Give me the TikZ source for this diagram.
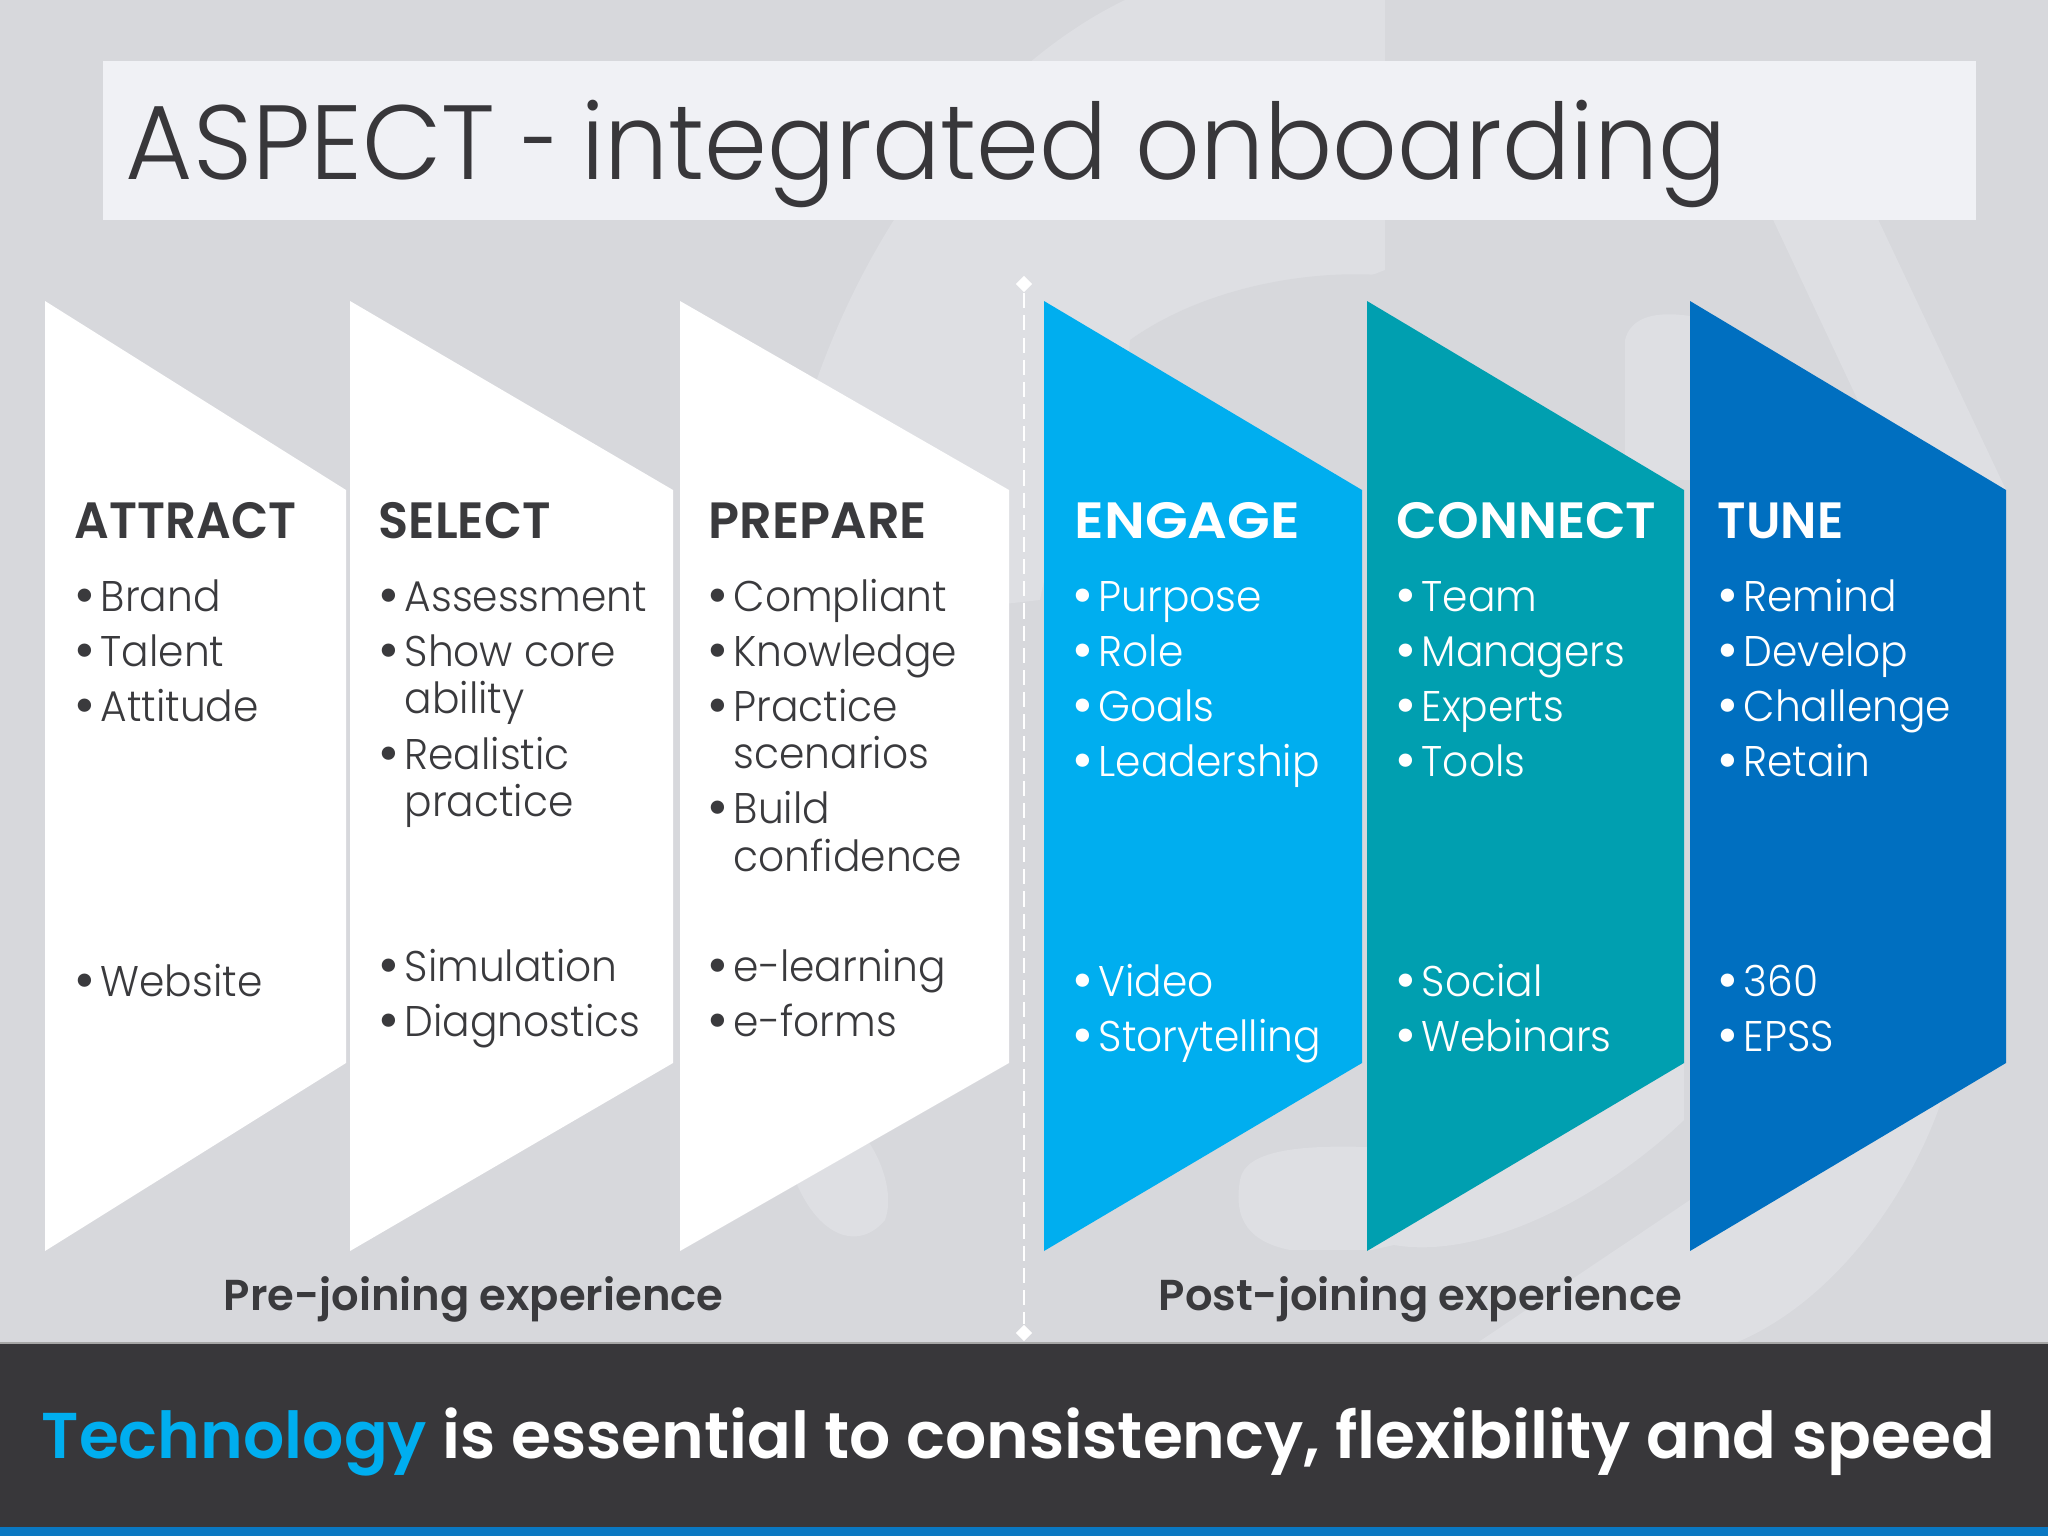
\documentclass[tikz,border=0pt]{standalone}
\usepackage{fontspec}
\setmainfont{Poppins}
\newfontfamily\titlef[FakeStretch=0.95]{Poppins Light}
\newfontfamily\lightf[FakeStretch=0.95]{Poppins Light}
\newfontfamily\boldf{Poppins SemiBold}
\definecolor{bgc}{HTML}{D7D8DC}
\definecolor{wm}{HTML}{DEDFE3}
\definecolor{ttl}{HTML}{F0F1F5}
\definecolor{ink}{HTML}{3A3A3D}
\definecolor{dark}{HTML}{38373A}
\definecolor{cyanb}{HTML}{00AEEF}
\definecolor{teal}{HTML}{009FB0}
\definecolor{royal}{HTML}{006FC0}
\definecolor{strip}{HTML}{0A78C2}
\usetikzlibrary{shapes.geometric}
\tikzset{
  x=0.01cm,y=-0.01cm,
  head/.style={anchor=base west,inner sep=0pt,font=\boldf\fontsize{14.5}{16}\selectfont},
  body/.style={anchor=base west,inner sep=0pt,font=\lightf\fontsize{12.2}{14}\selectfont},
  foot/.style={anchor=base west,inner sep=0pt,text=ink,font=\boldf\fontsize{12.3}{14}\selectfont},
  dmark/.style={diamond,fill=white,inner sep=0pt,minimum size=0.17cm}
}
\newcommand{\bull}{\llap{{\boldf\fontsize{13.5}{14}\selectfont\raisebox{-0.02em}{•}}\hspace{1.15pt}}}
\newcommand{\chev}[3]{\fill[#3] (#1,301)--(#2,490)--(#2,1063)--(#1,1251)--cycle;}
\newcommand{\itm}[5]{\node[body,text=#5] (#1) at (#2,#3) {\bull #4};}
\newcommand{\cont}[5]{\node[body,text=#5] (#1) at (#2,#3) {#4};}
\newcommand{\hd}[5]{\node[head,text=#5] (#1) at (#2,538) {\scalebox{#3}[1]{#4}};}
\begin{document}
\begin{tikzpicture}
\useasboundingbox (0,0) rectangle (2048,1536);
\fill[bgc] (0,0) rectangle (2048,1536);
% watermark
\fill[wm] (1125,0) .. controls (1000,60) and (850,220) .. (790,470) -- (860,620) -- (1040,600) .. controls (1070,440) and (1200,340) .. (1385,270) -- (1385,0) -- cycle;
\fill[bgc] (1130,340) .. controls (1200,290) and (1300,270) .. (1380,275) -- (1380,400) .. controls (1300,390) and (1200,420) .. (1120,470)--cycle;
\fill[wm] (1625,340) .. controls (1630,320) and (1650,310) .. (1690,316) -- (1690,480) -- (1625,480) -- cycle;
\fill[wm] (1745,160) -- (1850,160) -- (2006,490) -- (1900,490) -- cycle;
\fill[wm] (1240,1180) .. controls (1245,1150) and (1300,1145) .. (1367,1147) -- (1367,1250) -- (1290,1250) .. controls (1240,1240) and (1235,1210) .. (1240,1180) -- cycle;
\fill[wm] (800,1100) .. controls (860,1100) and (900,1180) .. (885,1220) .. controls (860,1250) and (820,1240) .. (795,1180) -- cycle;
\fill[wm] (1367,1251) -- (1684,1063) -- (1684,1120) .. controls (1600,1200) and (1480,1260) .. (1394,1245) -- cycle;
\fill[wm] (1948,1080) .. controls (1920,1180) and (1840,1300) .. (1735,1343) -- (1477,1343) -- (1690,1200) -- cycle;
% title
\fill[ttl] (102.5,61) rectangle (1976,219.5);
\node[anchor=base west,inner sep=0pt,text=dark,font=\titlef\fontsize{30}{36}\selectfont] (title) at (125,179) {\scalebox{1.03}[1]{ASPECT} \scalebox{0.7}[1]{-} \hspace{-1.5pt}\scalebox{1.009}[1]{integrated onboarding}};
% chevrons
\chev{45}{346}{white}
\chev{350}{673}{white}
\chev{680}{1009}{white}
\chev{1044}{1362}{cyanb}
\chev{1367}{1684}{teal}
\chev{1690}{2006}{royal}
% divider
\node[dmark] (dtop) at (1024,284) {};
\node[dmark] (dbot) at (1024,1333) {};
\draw[white,line width=0.77pt,dash pattern=on 4.3pt off 2pt] (dtop) -- (dbot);
% ATTRACT
\hd{h1}{74}{0.95}{ATTRACT}{ink}
\itm{a1}{100}{611}{Brand}{ink}
\itm{a2}{100}{666}{Talent}{ink}
\itm{a3}{100}{721}{Attitude}{ink}
\itm{a4}{100}{996}{Website}{ink}
% SELECT
\hd{h2}{378}{0.97}{SELECT}{ink}
\itm{s1}{404}{611}{Assessment}{ink}
\itm{s2}{404}{666}{Show core}{ink}
\cont{s2b}{404}{713}{ability}{ink}
\itm{s3}{404}{769}{Realistic}{ink}
\cont{s3b}{404}{816}{practice}{ink}
\itm{s4}{404}{981}{Simulation}{ink}
\itm{s5}{404}{1036}{Diagnostics}{ink}
% PREPARE
\hd{h3}{708}{1}{PREPARE}{ink}
\itm{p1}{733}{611}{Compliant}{ink}
\itm{p2}{733}{666}{Knowledge}{ink}
\itm{p3}{733}{721}{Practice}{ink}
\cont{p3b}{733}{768}{scenarios}{ink}
\itm{p4}{733}{823}{Build}{ink}
\cont{p4b}{733}{871}{confidence}{ink}
\itm{p5}{733}{981}{e-learning}{ink}
\itm{p6}{733}{1036}{e-forms}{ink}
% ENGAGE
\hd{h4}{1074}{1.09}{ENGAGE}{white}
\itm{e1}{1098}{611}{Purpose}{white}
\itm{e2}{1098}{666}{Role}{white}
\itm{e3}{1098}{721}{Goals}{white}
\itm{e4}{1098}{776}{Leadership}{white}
\itm{e5}{1098}{996}{Video}{white}
\itm{e6}{1098}{1051}{Storytelling}{white}
% CONNECT
\hd{h5}{1396}{1.04}{CONNECT}{white}
\itm{c1}{1421}{611}{Team}{white}
\itm{c2}{1421}{666}{Managers}{white}
\itm{c3}{1421}{721}{Experts}{white}
\itm{c4}{1421}{776}{Tools}{white}
\itm{c5}{1421}{996}{Social}{white}
\itm{c6}{1421}{1051}{Webinars}{white}
% TUNE
\hd{h6}{1717}{0.97}{TUNE}{white}
\itm{t1}{1743}{611}{Remind}{white}
\itm{t2}{1743}{666}{Develop}{white}
\itm{t3}{1743}{721}{Challenge}{white}
\itm{t4}{1743}{776}{Retain}{white}
\itm{t5}{1743}{996}{360}{white}
\itm{t6}{1743}{1051}{EPSS}{white}
% footers
\node[foot] (pre) at (223,1310) {Pre-joining experience};
\node[foot] (post) at (1158,1310) {Post-joining experience};
% band
\fill[dark] (0,1343) rectangle (2048,1527);
\fill[strip] (0,1527) rectangle (2048,1536);
\draw[gray!70,line width=0.4pt] (0,1343) -- (2048,1343);
\node[anchor=base west,inner sep=0pt,text=white,font=\boldf\fontsize{18.4}{21}\selectfont] (tag) at (41,1458) {\textcolor{cyanb}{Technology} is essential to consistency, flexibility and speed};
\end{tikzpicture}
\end{document}
